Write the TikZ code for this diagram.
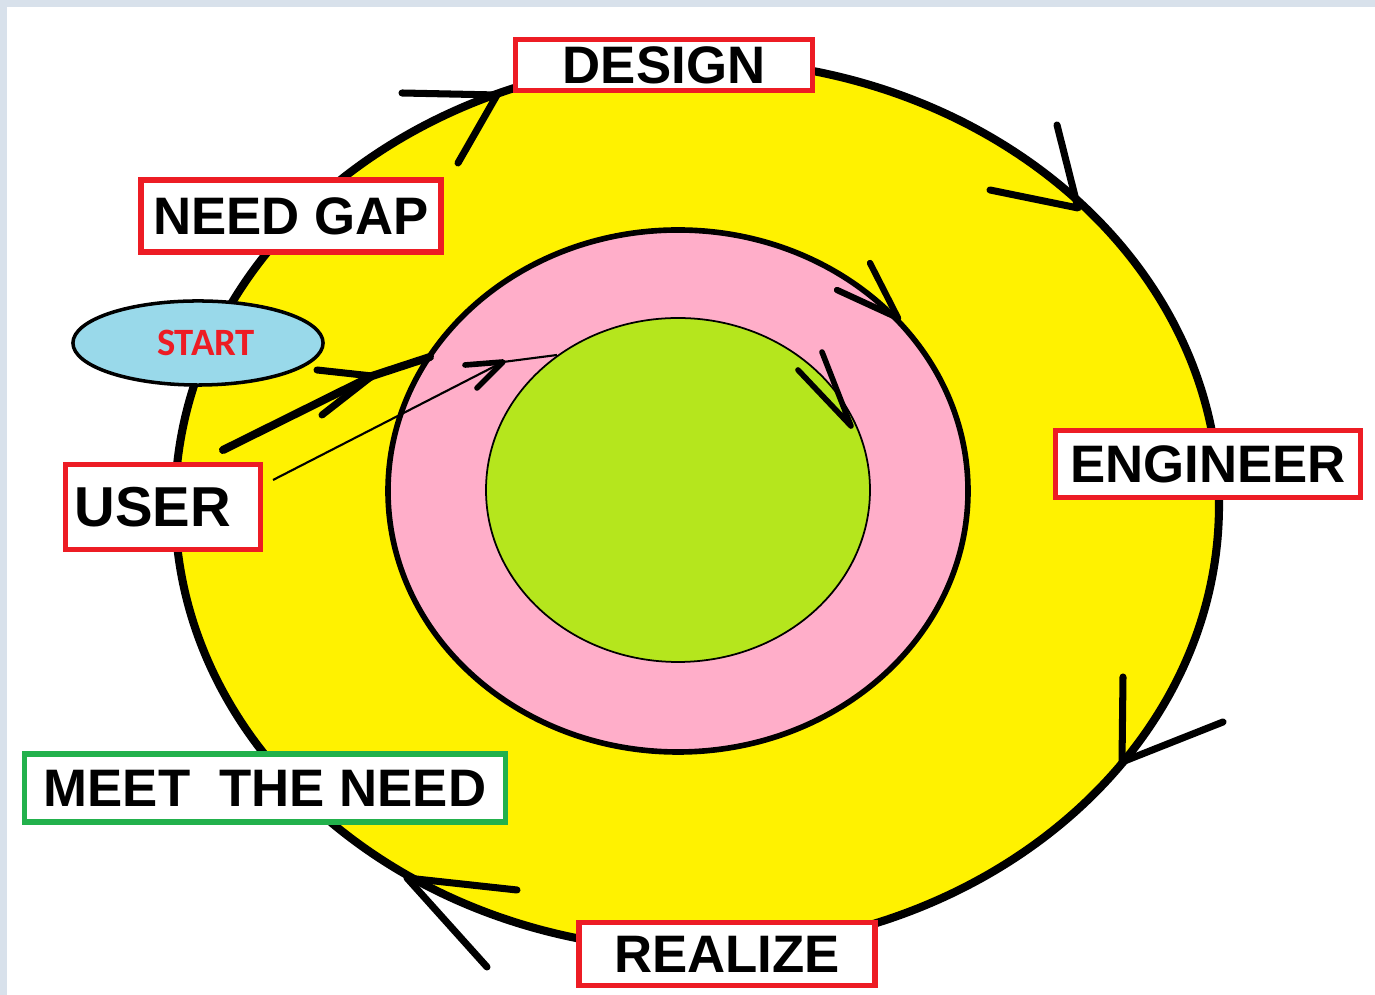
\documentclass[tikz,border=0pt]{standalone}
\usepackage{fontspec}
\setmainfont{Liberation Sans}
\newfontfamily\startfont{Carlito}
\usetikzlibrary{shapes.geometric}
\definecolor{yellowP}{HTML}{FFF200}
\definecolor{pinkP}{HTML}{FFAEC9}
\definecolor{limeP}{HTML}{B5E61D}
\definecolor{turqP}{HTML}{99D9EA}
\definecolor{redP}{HTML}{ED1C24}
\definecolor{greenP}{HTML}{22B14C}
\definecolor{bgP}{HTML}{D8E1EB}
\begin{document}
\begin{tikzpicture}[x=0.01cm,y=-0.01cm,
  lbl/.style={draw=redP, line width=1.5pt, fill=white, inner sep=0pt,
    font=\bfseries\fontsize{15}{18}\selectfont},
  arm/.style={line width=2pt, line cap=round, line join=round},
  ring/.style={line width=2.3pt}]
\useasboundingbox (0,0) rectangle (1375,995);
\fill[bgP] (0,0) rectangle (1375,995);
\fill[white] (7,7) rectangle (1375,995);

% outer yellow cycle
\filldraw[fill=yellowP, draw=black, ring] (697,505) ellipse [x radius=522, y radius=445];

% pink and green rings
\filldraw[fill=pinkP, draw=black, line width=1.6pt] (678,491) ellipse [x radius=290, y radius=261];
\filldraw[fill=limeP, draw=black, line width=0.5pt] (678,490) ellipse [x radius=192, y radius=172];

% arrowheads on outer cycle
\draw[arm] (402,93) -- (497,95) -- (458,163);
\draw[arm] (1057,125) -- (1078,208) -- (990,190);
\draw[arm] (1123,677) -- (1122,762) -- (1223,722);
\draw[arm] (517,890) -- (407,878) -- (487,967);
% arrowheads on inner rings
\draw[arm, line width=1.8pt] (870,263) -- (898,318) -- (837,290);
\draw[arm, line width=1.6pt] (822,352) -- (851,426) -- (798,370);

% labels
\node[lbl, minimum width=2.97cm, minimum height=0.51cm] (design) at (664,65) {DESIGN};
\node[lbl, minimum width=3.0cm, minimum height=0.72cm] (needgap) at (291,216) {NEED GAP};
\node[lbl, minimum width=1.95cm, minimum height=0.85cm,
  font=\bfseries\fontsize{16}{19}\selectfont] (user) at (163,507) {\hspace{-0.2cm}USER};
\node[lbl, minimum width=3.05cm, minimum height=0.67cm] (engineer) at (1208,464) {ENGINEER};
\node[lbl, draw=greenP, minimum width=4.81cm, minimum height=0.68cm] (meet) at (265,788) {MEET\ \ THE NEED};
\node[lbl, minimum width=2.96cm, minimum height=0.63cm] (realize) at (727,954) {REALIZE};

\node[ellipse, draw=black, fill=turqP, line width=1pt, inner sep=0pt,
  minimum width=2.5cm, minimum height=0.84cm, text=redP,
  font=\startfont\bfseries\fontsize{11}{13}\selectfont] (start) at (198,343) {\hspace{0.16cm}START};

% start arrows
\coordinate (s0) at (223,450);
\coordinate (s1) at (372,376);
\coordinate (s2) at (430,357);
\draw[line width=2.3pt, line cap=round, line join=round] (s0) -- (s1) -- (s2);
\draw[arm] (317,370) -- (s1) -- (322,415);

\coordinate (u0) at (273,480);
\coordinate (u1) at (503,362);
\coordinate (u2) at (557,355);
\draw[line width=0.6pt] (u0) -- (u1) -- (u2);
\draw[line width=1.6pt, line cap=round, line join=round] (465,365) -- (u1) -- (477,388);
\end{tikzpicture}
\end{document}
